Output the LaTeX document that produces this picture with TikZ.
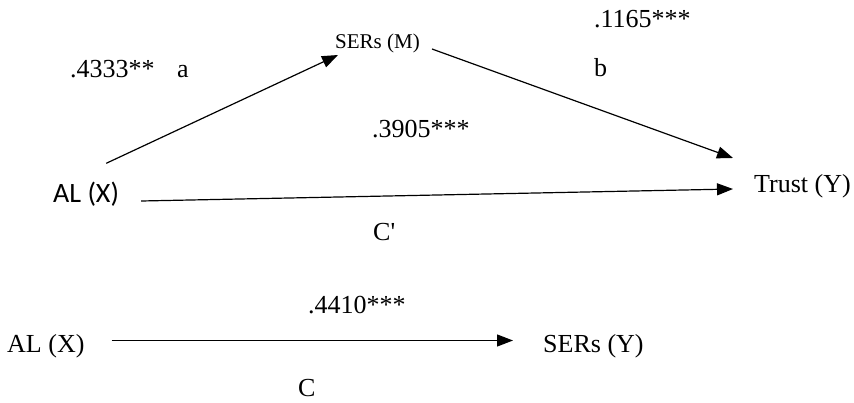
\documentclass[tikz,border=0pt]{standalone}
\usepackage{fontspec}
\setmainfont{Liberation Serif}
\newfontfamily\calfont{Carlito}
\usetikzlibrary{arrows.meta, positioning, calc}

\begin{document}
\begin{tikzpicture}[x=1pt, y=1pt, >={Triangle[length=16pt, width=12pt]},
  lbl/.style={inner sep=0pt, anchor=base west, font=\fontsize{26}{30}\selectfont},
  small/.style={inner sep=0pt, anchor=base west, font=\fontsize{21}{24}\selectfont},
  path/.style={->, line width=1.2pt}]
  \useasboundingbox (0,0) rectangle (854,402);
  % Mediation model
  \node[small] (serm) at (335,353) {SERs (M)};
  \node[lbl, font=\calfont\fontsize{28}{32}\selectfont] (alx) at (53,199) {AL (X)};
  \node[lbl] (trust) at (754,209) {Trust (Y)};
  % Coefficients
  \node[lbl] (ca) at (70,324) {.4333**};
  \node[lbl] (la) at (177,324) {a};
  \node[lbl] (cb) at (594,374) {.1165***};
  \node[lbl] (lb) at (594,325) {b};
  \node[lbl] (ccp) at (372,264) {.3905***};
  \node[lbl] (lcp) at (373,161) {C\textquotesingle};
  % Paths
  \draw[path] ([shift={(-13,19)}]alx.north east) -- ([shift={(3,-6)}]serm.base west);
  \draw[path] ([shift={(12,0)}]serm.base east) -- ([shift={(-21,35)}]trust.base west);
  \draw[path] ([shift={(22,2)}]alx.base east) -- ([shift={(-21,4)}]trust.base west);
  % Total effect
  \node[lbl] (alx2) at (7,50) {AL (X)};
  \node[lbl] (sery) at (543,50) {SERs (Y)};
  \node[lbl] (cc) at (308,89) {.4410***};
  \node[lbl] (lc) at (298,6) {C};
  \draw[path] ([shift={(27,11.5)}]alx2.base east) -- ([shift={(-30,11.5)}]sery.base west);
\end{tikzpicture}
\end{document}
